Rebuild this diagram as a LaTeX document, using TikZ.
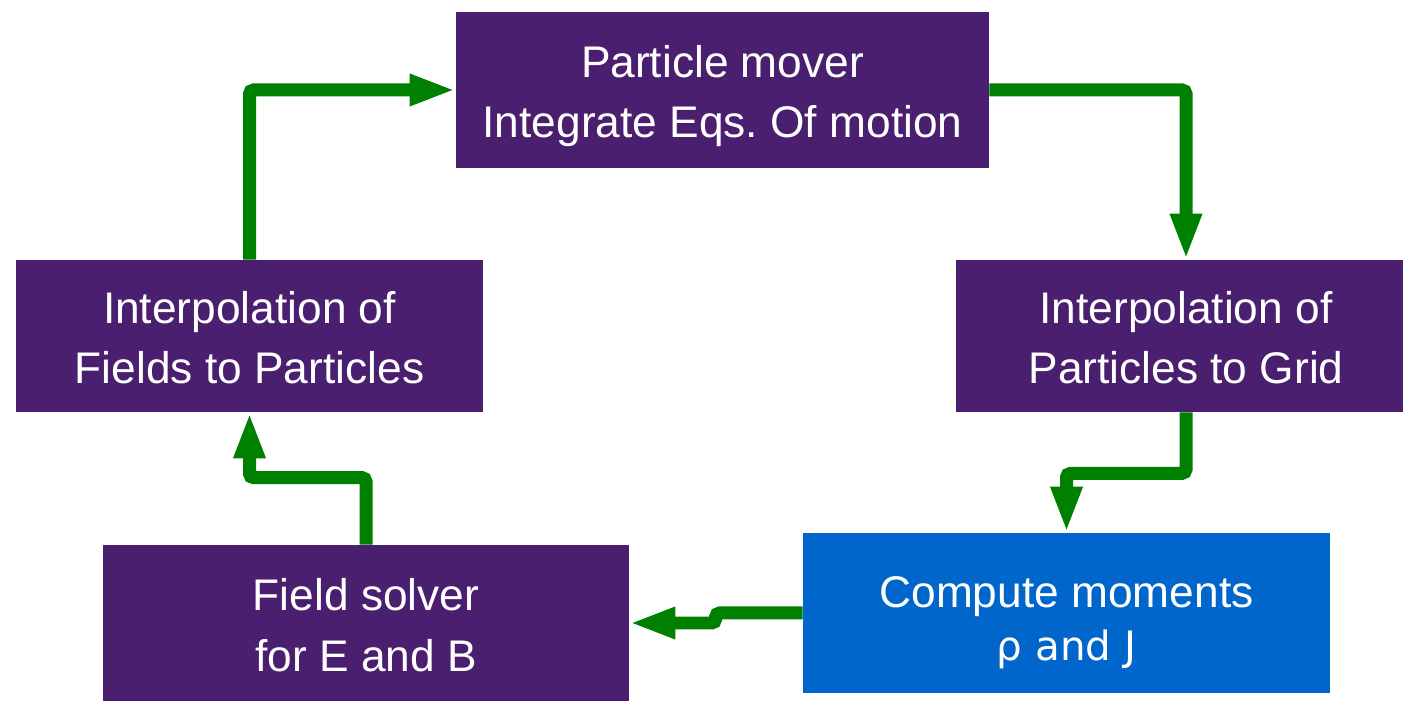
\documentclass[tikz,border=0pt]{standalone}
\usepackage{fontspec}
\setmainfont{Liberation Sans}
\newfontfamily\momentfont{DejaVu Sans}
\frenchspacing
\usetikzlibrary{arrows.meta}
\definecolor{boxpurple}{RGB}{75,31,111}
\definecolor{boxblue}{RGB}{0,102,204}
\definecolor{flowgreen}{RGB}{0,128,0}
\tikzset{
    stage/.style={rectangle, fill=boxpurple, text=white, align=center, inner sep=0pt,
        text height=1.92cm, text depth=0pt, font=\fontsize{25.2}{34.2}\selectfont},
    flow/.style={draw=flowgreen, line width=0.26cm, rounded corners=0.08cm,
        -{Triangle[length=0.92cm, width=0.58cm]}}
}
\begin{document}
\begin{tikzpicture}
    \clip (0,0) rectangle (28.06,14);

    \node[stage, minimum width=10.66cm, minimum height=3.12cm] (mover) at (14.45,12.2) {Particle mover\\Integrate Eqs. Of motion};
    \node[stage, minimum width=9.34cm, minimum height=3.04cm] (fields) at (4.99,7.28) {Interpolation of\\Fields to Particles};
    \node[stage, minimum width=9.2cm, minimum height=3.04cm] (ptog) at (23.72,7.28) {Interpolation of\\Particles to Grid};
    \node[stage, minimum width=10.52cm, minimum height=3.12cm] (solver) at (7.32,1.54) {Field solver\\for E and B};
    \node[stage, fill=boxblue, minimum width=10.54cm, minimum height=3.2cm,
        font=\fontsize{25.2}{30.6}\selectfont] (moments) at (21.33,1.74) {Compute moments\\{\momentfont\fontsize{23}{30.6}\selectfont ρ and J}};

    \draw[flow] (fields.north) |- (mover.west);
    \draw[flow] (mover.east) -| (ptog.north);
    \draw[flow] (ptog.south) -- ++(0,-1.22) -| (moments.north);
    \draw[flow] (moments.west) -- ++(-1.74,0) |- (solver.east);
    \draw[flow] (solver.north) -- ++(0,1.34) -| (fields.south);
\end{tikzpicture}
\end{document}
